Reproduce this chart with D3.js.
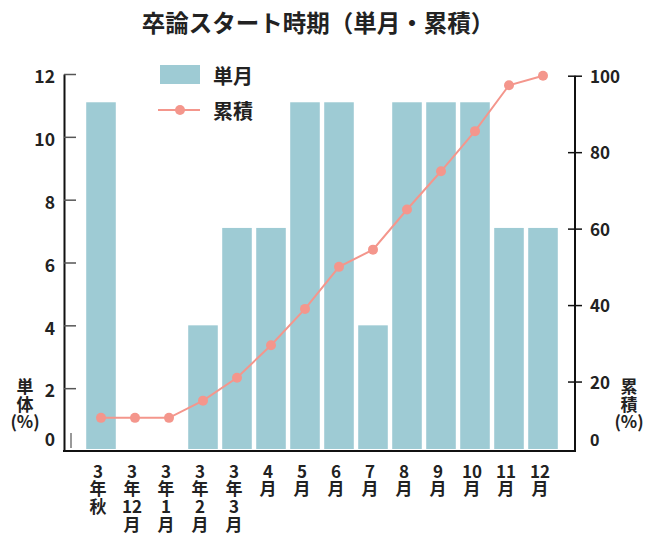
<!DOCTYPE html>
<html><head><meta charset="utf-8">
<script src="https://cdn.jsdelivr.net/npm/d3@7"></script>
<style>
html,body{margin:0;padding:0;background:#fff;}
svg{display:block;font-family:"Noto Sans CJK JP","Noto Sans",sans-serif;}
</style></head>
<body><svg id="chart" width="650" height="542"></svg>
<script>
const title = "卒論スタート時期（単月・累積）";
const categories = ["3年秋","3年12月","3年1月","3年2月","3年3月","4月","5月","6月","7月","8月","9月","10月","11月","12月"];
const monthly = [11.1,0,0,4,7.1,7.1,11.1,11.1,4,11.1,11.1,11.1,7.1,7.1];
const cumulative = [10.5,10.5,10.5,15,21,29.5,39,50,54.5,65,75,85.5,97.5,100];
const leftTicks = [0,2,4,6,8,10,12];
const rightTicks = [20,40,60,80,100];
const legendLabels = ["単月","累積"];
const leftTitle = ["単","体","(%)"];
const rightTitle = ["累","積","(%)"];

const barColor = "#9ecbd4", lineColor = "#f4968c";
const svg = d3.select("#chart");
const axL = 64, axR = 575, base = 451;

const x = d3.scaleBand().domain(categories).range([84,560]).paddingInner(0.13).paddingOuter(0.065);
const yL = d3.scaleLinear().domain([0,12]).range([base,74]);
const yR = d3.scaleLinear().domain([0,100]).range([458,75.7]);

// title
svg.append("text").attr("x",318).attr("y",32).attr("text-anchor","middle")
  .attr("font-size",23.5).attr("font-weight","bold").attr("fill","#222").text(title);

// bars
svg.append("g").selectAll("rect").data(monthly).join("rect")
  .attr("x",(d,i)=>x(categories[i])).attr("width",x.bandwidth())
  .attr("y",d=>yL(d)).attr("height",d=>Math.max(0,base-2-yL(d)))
  .attr("fill",barColor);

// line
const cx = i => x(categories[i]) + x.bandwidth()/2;
svg.append("path").datum(cumulative)
  .attr("d",d3.line().x((d,i)=>cx(i)).y(d=>yR(d)))
  .attr("fill","none").attr("stroke",lineColor).attr("stroke-width",2);
svg.append("g").selectAll("circle").data(cumulative).join("circle")
  .attr("cx",(d,i)=>cx(i)).attr("cy",d=>yR(d)).attr("r",5).attr("fill",lineColor);

// left axis
const gL = svg.append("g").attr("transform",`translate(${axL},0)`)
  .call(d3.axisLeft(yL).tickValues(leftTicks).tickSize(-12).tickSizeOuter(0).tickPadding(9));
gL.select(".domain").attr("stroke","#111").attr("stroke-width",2);
gL.selectAll(".tick line").attr("stroke","#555").attr("stroke-width",1.5);
gL.selectAll(".tick text").attr("font-size",17.5).attr("font-weight","bold").attr("fill","#222")
  .attr("font-family","'Noto Sans CJK JP',sans-serif").attr("dy","0.5em");
gL.selectAll(".tick").filter(d=>d===0).select("line").remove();
gL.selectAll(".tick").filter(d=>d===0).select("text").attr("dy","-0.3em");
// small mark near origin
svg.append("line").attr("x1",axL+7).attr("x2",axL+7).attr("y1",base-18).attr("y2",base-3)
  .attr("stroke","#555").attr("stroke-width",1.2);

// right axis
const gR = svg.append("g").attr("transform",`translate(${axR},0)`)
  .call(d3.axisRight(yR).tickValues(rightTicks).tickSize(7).tickSizeOuter(0).tickPadding(8));
gR.select(".domain").remove();
gR.selectAll(".tick line").attr("x1",-7).attr("stroke","#111").attr("stroke-width",1.5);
gR.selectAll(".tick text").attr("font-size",17).attr("font-weight",600).attr("fill","#222")
  .attr("font-family","'Noto Sans CJK JP',sans-serif").attr("dy","0.4em");
gR.append("line").attr("x1",0).attr("x2",0).attr("y1",yR(100)).attr("y2",base)
  .attr("stroke","#111").attr("stroke-width",2);
gR.append("text").attr("x",15).attr("y",base).attr("dy","-0.3em")
  .attr("font-size",17).attr("font-weight",600).attr("fill","#222").text("0");

// bottom axis line
svg.append("line").attr("x1",axL-1).attr("x2",axR+1).attr("y1",base).attr("y2",base)
  .attr("stroke","#111").attr("stroke-width",2);

// x labels
const xl = svg.append("g");
categories.forEach(c=>{
  const parts = c.match(/\d+|\D/g);
  const t = xl.append("text").attr("text-anchor","middle").attr("font-size",17)
    .attr("font-weight","bold").attr("fill","#222");
  parts.forEach((p,j)=>{
    t.append("tspan").attr("x",x(c)+x.bandwidth()/2-3).attr("y",470+j*17.7)
      .attr("dominant-baseline","central").text(p);
  });
});

// axis titles
[[leftTitle,25],[rightTitle,629]].forEach(([arr,cxp])=>{
  arr.forEach((s,j)=>{
    svg.append("text").attr("x",cxp).attr("y",[385,403,420][j]).attr("text-anchor","middle")
      .attr("dominant-baseline","central").attr("font-size",17).attr("font-weight","bold")
      .attr("fill","#222").text(s);
  });
});

// legend
const lg = svg.append("g");
lg.append("rect").attr("x",160).attr("y",65).attr("width",40).attr("height",19).attr("fill",barColor);
lg.append("line").attr("x1",158).attr("x2",200).attr("y1",110).attr("y2",110)
  .attr("stroke",lineColor).attr("stroke-width",2);
lg.append("circle").attr("cx",180).attr("cy",110).attr("r",5).attr("fill",lineColor);
legendLabels.forEach((s,j)=>{
  lg.append("text").attr("x",213).attr("y",75+j*35).attr("dominant-baseline","central")
    .attr("font-size",20).attr("font-weight","bold").attr("fill","#222").text(s);
});
</script></body></html>
